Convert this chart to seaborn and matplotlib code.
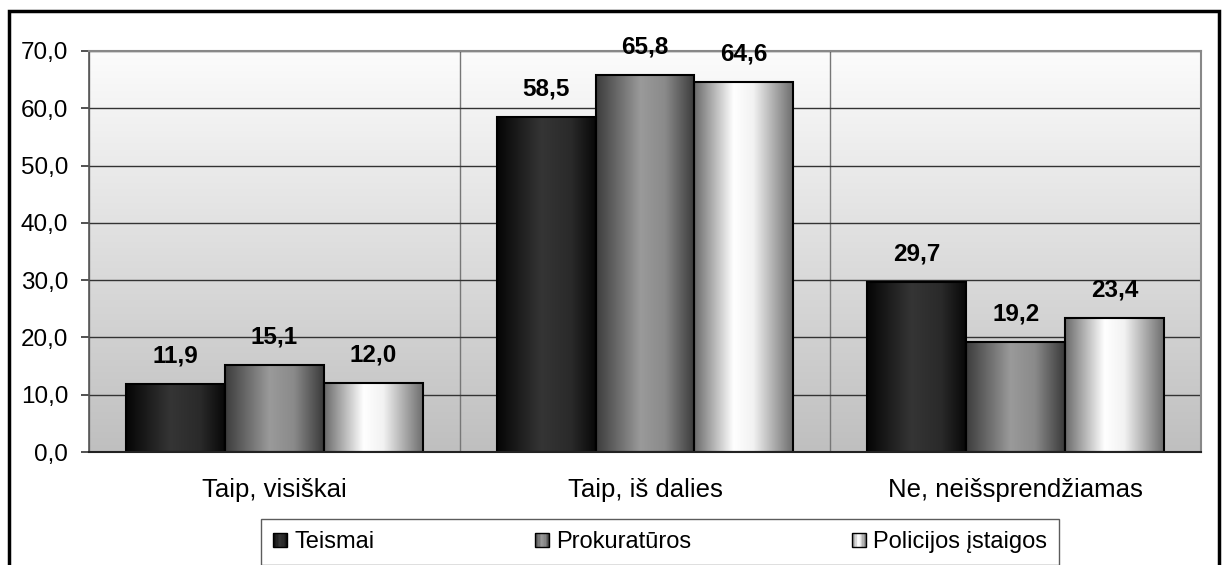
import numpy as np
import pandas as pd
import matplotlib
matplotlib.use("Agg")
import matplotlib.pyplot as plt
import seaborn as sns
from matplotlib.patches import Rectangle
from matplotlib.legend_handler import HandlerBase
from matplotlib.colors import LinearSegmentedColormap

categories = ["Taip, visiškai", "Taip, iš dalies", "Ne, neišsprendžiamas"]
series = ["Teismai", "Prokuratūros", "Policijos įstaigos"]
teismai = [11.9, 58.5, 29.7]
prokuraturos = [15.1, 65.8, 19.2]
policija = [12.0, 64.6, 23.4]
y_ticks = [0, 10, 20, 30, 40, 50, 60, 70]

sns.set_theme(style="white")
plt.rcParams["font.family"] = ["Liberation Sans", "DejaVu Sans"]

# horizontal shading profiles (position, colour) for each series
profiles = {
    "Teismai": [(0.0, "#050505"), (0.45, "#353535"), (0.75, "#2a2a2a"), (1.0, "#080808")],
    "Prokuratūros": [(0.0, "#3c3c3c"), (0.45, "#9a9a9a"), (0.7, "#8a8a8a"), (1.0, "#3a3a3a")],
    "Policijos įstaigos": [(0.0, "#6a6a6a"), (0.4, "#ffffff"), (0.6, "#f2f2f2"), (1.0, "#6e6e6e")],
}
cmaps = {k: LinearSegmentedColormap.from_list(k, v) for k, v in profiles.items()}

df = pd.DataFrame({
    "category": categories * 3,
    "series": [series[0]] * 3 + [series[1]] * 3 + [series[2]] * 3,
    "value": teismai + prokuraturos + policija,
})

fig = plt.figure(figsize=(12.22, 5.65), dpi=100)
ax = fig.add_axes([89 / 1222, 113 / 565, 1112 / 1222, 401 / 565])

sns.barplot(data=df, x="category", y="value", hue="series", order=categories,
            hue_order=series, palette=["#222222", "#888888", "#eeeeee"],
            edgecolor="black", linewidth=1.5, legend=False, ax=ax, zorder=3)

values = dict(zip(series, [teismai, prokuraturos, policija]))
grad = np.linspace(0, 1, 256).reshape(1, -1)
for cont, name in zip(ax.containers, series):
    for bar, val in zip(cont, values[name]):
        x, w, h = bar.get_x(), bar.get_width(), bar.get_height()
        ax.imshow(grad, cmap=cmaps[name], extent=[x, x + w, 0, h], aspect="auto",
                  zorder=2.5, interpolation="bicubic")
        bar.set_facecolor("none")
        ax.annotate(f"{val:.1f}".replace(".", ","), (x + w / 2, h),
                    xytext=(0, 12), textcoords="offset points", ha="center", va="bottom",
                    fontsize=17.5, fontweight="bold", color="black", zorder=5)

# background gradient of the plot area
bg = np.linspace(0, 1, 256).reshape(-1, 1)
bgmap = LinearSegmentedColormap.from_list("bg", ["#fcfcfc", "#bfbfbf"])
ax.imshow(bg, cmap=bgmap, extent=[0, 1, 0, 1], transform=ax.transAxes,
          aspect="auto", zorder=0)

ax.set_xlim(-0.5, 2.5)
ax.set_ylim(0, 70)
ax.set_yticks(y_ticks)
ax.set_yticklabels([f"{t:.1f}".replace(".", ",") for t in y_ticks], fontsize=17.5)
ax.set_xticks([0, 1, 2])
ax.set_xticklabels(categories, fontsize=18.5)
ax.set_xticks([-0.5, 0.5, 1.5, 2.5], minor=True)
ax.tick_params(axis="x", which="major", length=0, pad=19, colors="black")
ax.tick_params(axis="x", which="minor", length=6, width=1.2, color="#333333", direction="out")
ax.tick_params(axis="y", length=6, width=1.2, color="#333333", direction="out", pad=9, left=True)
for lab in ax.get_xticklabels() + ax.get_yticklabels():
    lab.set_color("black")
ax.set_xlabel("")
ax.set_ylabel("")
ax.set_axisbelow(True)
ax.grid(axis="y", which="major", color="#333333", linewidth=1.0, zorder=1)
ax.grid(axis="x", which="minor", color="#777777", linewidth=1.0, zorder=1)
ax.grid(axis="x", which="major", visible=False)
for side in ["top", "right"]:
    ax.spines[side].set_color("#888888")
    ax.spines[side].set_linewidth(1.5)
ax.spines["left"].set_color("#555555")
ax.spines["left"].set_linewidth(1.2)
ax.spines["bottom"].set_color("#222222")
ax.spines["bottom"].set_linewidth(1.5)
for s in ax.spines.values():
    s.set_zorder(4)


class GradientHandler(HandlerBase):
    def __init__(self, cmap):
        super().__init__()
        self.cmap = cmap

    def create_artists(self, legend, orig_handle, xdescent, ydescent, width, height, fontsize, trans):
        size = min(width, height) * 1.0
        x0 = xdescent * -1 + (width - size) / 2
        y0 = -ydescent + (height - size) / 2
        n = 12
        arts = []
        for i in range(n):
            arts.append(Rectangle((x0 + i * size / n, y0), size / n + 0.3, size,
                                  facecolor=self.cmap((i + 0.5) / n), edgecolor="none",
                                  transform=trans))
        arts.append(Rectangle((x0, y0), size, size, facecolor="none",
                              edgecolor="black", linewidth=1.0, transform=trans))
        return arts


handles = [Rectangle((0, 0), 1, 1) for _ in series]
leg = fig.legend(handles, series, handler_map={h: GradientHandler(cmaps[s]) for h, s in zip(handles, series)},
                 loc="center", bbox_to_anchor=(660 / 1222, 23 / 565), ncol=3, frameon=True,
                 fancybox=False, fontsize=17, handlelength=0.6, handleheight=0.6,
                 handletextpad=0.3, columnspacing=6.8, borderpad=0.5)
leg.get_frame().set_edgecolor("#333333")
leg.get_frame().set_linewidth(1.0)
for t in leg.get_texts():
    t.set_color("black")

# outer chart border
fig.add_artist(Rectangle((9 / 1222, -0.05), 1210 / 1222, 1.05 - 11 / 565, transform=fig.transFigure,
                         facecolor="none", edgecolor="black", linewidth=2.5, zorder=10))

fig.savefig("out.png", dpi=100)
